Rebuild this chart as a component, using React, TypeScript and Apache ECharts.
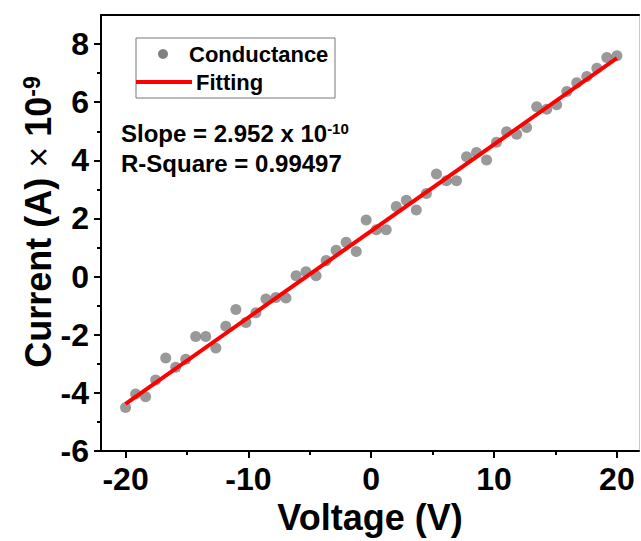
import React, { useEffect, useRef } from 'react';
import * as echarts from 'echarts';

const voltage = [
  -20.0, -19.18, -18.37, -17.55, -16.73, -15.92, -15.1, -14.29, -13.47, -12.65,
  -11.84, -11.02, -10.2, -9.39, -8.57, -7.76, -6.94, -6.12, -5.31, -4.49,
  -3.67, -2.86, -2.04, -1.22, -0.41, 0.41, 1.22, 2.04, 2.86, 3.67,
  4.49, 5.31, 6.12, 6.94, 7.76, 8.57, 9.39, 10.2, 11.02, 11.84,
  12.65, 13.47, 14.29, 15.1, 15.92, 16.73, 17.55, 18.37, 19.18, 20.0,
];
const current = [
  -4.5, -4.04, -4.13, -3.56, -2.8, -3.12, -2.84, -2.06, -2.06, -2.46,
  -1.71, -1.13, -1.58, -1.24, -0.77, -0.72, -0.74, 0.03, 0.17, 0.03,
  0.55, 0.91, 1.18, 0.86, 1.95, 1.61, 1.61, 2.41, 2.63, 2.29,
  2.86, 3.53, 3.3, 3.3, 4.12, 4.27, 4.01, 4.62, 4.98, 4.9,
  5.13, 5.84, 5.76, 5.91, 6.37, 6.67, 6.88, 7.17, 7.54, 7.6,
];
const fitVoltage = [-20, 20];
const fitCurrent = [-4.38, 7.52];

const xMajorTicks = [-20, -10, 0, 10, 20];
const xMinorTicks = [-15, -5, 5, 15];
const yMajorTicks = [-6, -4, -2, 0, 2, 4, 6, 8];
const yMinorTicks = [-5, -3, -1, 1, 3, 5, 7];

const FONT = 'Arial, "Liberation Sans", sans-serif';

export default function App() {
  const ref = useRef<HTMLDivElement>(null);
  useEffect(() => {
    const chart = echarts.init(ref.current!, null, { renderer: 'svg' });
    const xMin = -22, xMax = 21.8, yMin = -6, yMax = 9;
    const black = { color: '#000', width: 2 };
    chart.setOption({
      animation: false,
      backgroundColor: '#fff',
      grid: { left: 101, top: 15, width: 538, height: 436 },
      xAxis: [
        {
          type: 'value', min: xMin, max: xMax, position: 'bottom',
          axisLine: { show: true, onZero: false, lineStyle: black },
          axisTick: { show: true, customValues: xMajorTicks, length: 7, lineStyle: black },
          axisLabel: { customValues: xMajorTicks, fontSize: 32, fontWeight: 'bold', color: '#000', margin: 12, fontFamily: FONT },
          splitLine: { show: false },
          name: 'Voltage (V)', nameLocation: 'middle', nameGap: 48,
          nameTextStyle: { fontSize: 36, fontWeight: 'bold', color: '#000', fontFamily: FONT },
        },
        {
          type: 'value', min: xMin, max: xMax, position: 'bottom',
          axisLine: { show: false, onZero: false },
          axisTick: { show: true, customValues: xMinorTicks, length: 4, lineStyle: black },
          axisLabel: { show: false }, splitLine: { show: false },
        },
        {
          type: 'value', min: xMin, max: xMax, position: 'top',
          axisLine: { show: true, onZero: false, lineStyle: black },
          axisTick: { show: false }, axisLabel: { show: false }, splitLine: { show: false },
        },
      ],
      yAxis: [
        {
          type: 'value', min: yMin, max: yMax, position: 'left',
          axisLine: { show: true, onZero: false, lineStyle: black },
          axisTick: { show: true, customValues: yMajorTicks, length: 7, lineStyle: black },
          axisLabel: { customValues: yMajorTicks, fontSize: 32, fontWeight: 'bold', color: '#000', margin: 12, fontFamily: FONT },
          splitLine: { show: false },
        },
        {
          type: 'value', min: yMin, max: yMax, position: 'left',
          axisLine: { show: false, onZero: false },
          axisTick: { show: true, customValues: yMinorTicks, length: 4, lineStyle: black },
          axisLabel: { show: false }, splitLine: { show: false },
        },
        {
          type: 'value', min: yMin, max: yMax, position: 'right',
          axisLine: { show: true, onZero: false, lineStyle: { color: '#c8c8c8', width: 1 } },
          axisTick: { show: false }, axisLabel: { show: false }, splitLine: { show: false },
        },
      ],
      series: [
        {
          name: 'Conductance', type: 'scatter', xAxisIndex: 0, yAxisIndex: 0,
          symbol: 'circle', symbolSize: 11,
          itemStyle: { color: '#808080' },
          data: voltage.map((v, i) => [v, current[i]]),
          z: 2,
        },
        {
          name: 'Fitting', type: 'line', xAxisIndex: 0, yAxisIndex: 0,
          showSymbol: false, symbol: 'none',
          lineStyle: { color: '#ff0000', width: 4 },
          data: fitVoltage.map((v, i) => [v, fitCurrent[i]]),
          z: 3,
        },
      ],
      graphic: [
        {
          type: 'text', x: 38, y: 222, rotation: Math.PI / 2,
          style: {
            text: 'Current (A) {x|×} 10{sup|-9}',
            align: 'center', verticalAlign: 'middle',
            fontSize: 36, fontWeight: 'bold', fontFamily: FONT, fill: '#000',
            rich: {
              x: { fontSize: 36, fontWeight: 'normal', fontFamily: FONT, fill: '#000' },
              sup: { fontSize: 23, fontWeight: 'bold', fontFamily: FONT, fill: '#000', verticalAlign: 'top' },
            },
          },
        },
        {
          type: 'rect', shape: { x: 136, y: 38, width: 199, height: 60 },
          style: { fill: '#fff', stroke: '#777', lineWidth: 1 }, z: 10,
        },
        { type: 'circle', shape: { cx: 163, cy: 54, r: 5 }, style: { fill: '#808080' }, z: 11 },
        {
          type: 'text', x: 189, y: 54, z: 11,
          style: { text: 'Conductance', fontSize: 22, fontWeight: 'bold', fontFamily: FONT, fill: '#000', verticalAlign: 'middle' },
        },
        { type: 'line', shape: { x1: 136, y1: 82, x2: 192, y2: 82 }, style: { stroke: '#ff0000', lineWidth: 4 }, z: 11 },
        {
          type: 'text', x: 196, y: 82, z: 11,
          style: { text: 'Fitting', fontSize: 22, fontWeight: 'bold', fontFamily: FONT, fill: '#000', verticalAlign: 'middle' },
        },
        {
          type: 'text', x: 121, y: 133, z: 11,
          style: {
            text: 'Slope = 2.952 x 10{sup|-10}', fontSize: 24, fontWeight: 'bold', fontFamily: FONT, fill: '#000', verticalAlign: 'middle',
            rich: { sup: { fontSize: 15, fontWeight: 'bold', fontFamily: FONT, fill: '#000', verticalAlign: 'top' } },
          },
        },
        {
          type: 'text', x: 121, y: 163, z: 11,
          style: { text: 'R-Square = 0.99497', fontSize: 24, fontWeight: 'bold', fontFamily: FONT, fill: '#000', verticalAlign: 'middle' },
        },
      ],
    });
    return () => chart.dispose();
  }, []);
  return (
    <div
      ref={ref}
      style={{ position: 'absolute', left: 0, top: 0, width: 641, height: 541, background: '#fff' }}
    />
  );
}
